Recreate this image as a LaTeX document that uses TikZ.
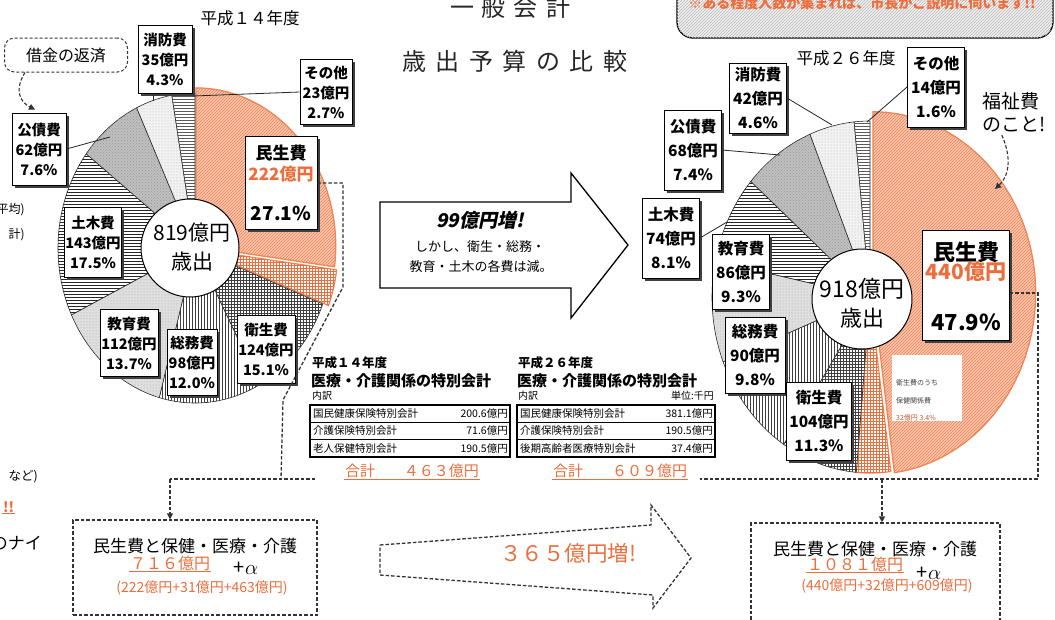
\documentclass[tikz,border=0pt]{standalone}
\usepackage{fontspec}
\newfontfamily\jp{Noto Sans CJK JP}
\usetikzlibrary{patterns,shadows,arrows.meta,calc}
\definecolor{orng}{RGB}{236,110,60}
\definecolor{orngl}{RGB}{248,198,172}
\definecolor{orngd}{RGB}{238,135,85}
\newcommand\pieslice[3]{\path[#3] (0,0) -- plot[domain=#1:#2,samples=40] ({cos(\x)},{sin(\x)}) -- cycle;}
\newcommand\fs[2]{\fontsize{#1}{#2}\selectfont}
\begin{document}
\begin{tikzpicture}[x=1pt,y=-1pt,
  sl/.style={draw=black!85, line width=0.6pt},
  pminsei/.style={draw=orngd, line width=1.3pt, fill=orngl, postaction={pattern=north east lines, pattern color=orng!85}},
  pminsei2/.style={draw=orngd, line width=1.2pt, fill=white, postaction={pattern=grid, pattern color=orng}},
  peisei/.style={sl, fill=white, postaction={pattern=grid, pattern color=black!75}},
  psomu/.style={sl, fill=white, postaction={pattern=vertical lines, pattern color=black!75}},
  pkyoiku/.style={sl, fill=gray!25, postaction={pattern=dots, pattern color=black!35}},
  pdoboku/.style={sl, fill=white, postaction={pattern=horizontal lines, pattern color=black!85}},
  pkosai/.style={sl, fill=gray!50, postaction={pattern=crosshatch dots, pattern color=black!40}},
  pshobo/.style={sl, fill=gray!10, postaction={pattern=dots, pattern color=black!30}},
  psonota/.style={sl, fill=white, postaction={pattern=horizontal lines, pattern color=black!65}},
  lbl/.style={draw=black, line width=0.9pt, fill=white, align=center, inner sep=1pt,
    drop shadow={shadow xshift=2.5pt,shadow yshift=-2.5pt,fill=black!75,opacity=1}},
  lblL/.style={lbl, font=\jp\bfseries\fs{14.5}{20}},
  lblR/.style={lbl, font=\jp\bfseries\fs{15.5}{24}},
  lead/.style={draw=black!85, line width=0.8pt},
  dsh/.style={draw=black!80, line width=1.3pt, dash pattern=on 3.5pt off 2pt},
  tip/.style={-{Triangle[length=6pt,width=6pt]}},
  tbl/.style={font=\jp\fs{10.5}{10.5}, inner sep=0pt},
  otxt/.style={text=orng}
]
\useasboundingbox (0,0) rectangle (1055,619);
\fill[white] (0,0) rectangle (1055,619);

% ---------- banner top right ----------
\draw[line width=1.3pt, rounded corners=16pt, fill=gray!12, postaction={pattern=north east lines, pattern color=gray!55}] (677,-40) rectangle (1053,38);
\node[otxt, font=\jp\bfseries\fs{14}{14}] (banner) at (862,3) {※ある程度人数が集まれば、市長がご説明に伺います!!};

% ---------- title ----------
\node[font=\jp\fs{24}{24}, text=black!85] (ttl1) at (510,7) {一\kern8pt 般\kern8pt 会\kern8pt 計};
\node[font=\jp\fs{24}{24}, text=black!85] (ttl2) at (515,61) {歳\kern9.5pt 出\kern9.5pt 予\kern9.5pt 算\kern9.5pt の\kern9.5pt 比\kern9.5pt 較};

% ---------- left edge fragments ----------
\node[anchor=east, inner sep=0pt, font=\jp\fs{12}{12}] (f1) at (25,210) {平均)};
\node[anchor=east, inner sep=0pt, font=\jp\fs{12}{12}] (f2) at (25,235) {計)};
\node[anchor=east, inner sep=0pt, font=\jp\fs{12.5}{12.5}] (f3) at (38,477) {など)};
\node[anchor=east, inner sep=0.5pt, font=\jp\bfseries\fs{14}{14}, otxt] (f4) at (15,507) {!!};
\draw[orng, line width=0.8pt] (f4.south west) -- (f4.south east);
\node[anchor=east, inner sep=0pt, font=\jp\fs{17}{17}] (f5) at (42,543) {のナイ};

% ---------- left pie ----------
\node[font=\jp\fs{16.5}{16.5}] (y14) at (250,18) {平成１４年度};
\begin{scope}[shift={(195,248)},x=137pt,y=155pt]
  \begin{scope}[xshift=1pt,yshift=2pt,scale=1.02]\pieslice{90}{-7.56}{pminsei}\end{scope}
  \begin{scope}[xshift=5.8pt,yshift=-1.5pt]\pieslice{-7.56}{-21.19}{pminsei2}\end{scope}
  \pieslice{-21.19}{-61.92}{peisei}
  \pieslice{-61.92}{-105.12}{psomu}
  \pieslice{-105.12}{-154.44}{pkyoiku}
  \pieslice{-154.44}{-217.44}{pdoboku}
  \pieslice{-217.44}{-244.8}{pkosai}
  \pieslice{-244.8}{-260.28}{pshobo}
  \pieslice{-260.28}{-270}{psonota}
\end{scope}
\coordinate (lp1) at (153,101);
\coordinate (lp2) at (193,96);
\coordinate (lp3) at (110,137);
\node[circle, draw, line width=1pt, fill=white, minimum size=98pt, inner sep=0pt] (c1) at (190,248) {};
\node[font=\jp\fs{21}{21}, inner sep=0pt] (c1a) at (192,233) {819億円};
\node[font=\jp\fs{21}{21}, inner sep=0pt] (c1b) at (192,262) {歳出};

\node[lblL, minimum width=54pt, minimum height=68pt] (shobo1) at (165,59) {消防費\\35億円\\4.3\%};
\node[lblL, minimum width=52pt, minimum height=65pt] (sonota1) at (326,92) {その他\\23億円\\2.7\%};
\node[lblL, minimum width=54pt, minimum height=72pt] (kosai1) at (39,149) {公債費\\62億円\\7.6\%};
\node[lblL, minimum width=57pt, minimum height=70pt] (doboku1) at (93,242) {土木費\\143億円\\17.5\%};
\node[lblL, minimum width=58pt, minimum height=67pt] (kyoiku1) at (129,343) {教育費\\112億円\\13.7\%};
\node[lblL, minimum width=50pt, minimum height=66pt] (somu1) at (192,362) {総務費\\98億円\\12.0\%};
\node[lblL, minimum width=58pt, minimum height=68pt] (eisei1) at (266,349) {衛生費\\124億円\\15.1\%};
\node[lbl, minimum width=72pt, minimum height=93pt] (minsei1) at (281,183) {};
\node[font=\jp\bfseries\fs{17}{17}, inner sep=0pt] (m1a) at (281,153) {民生費};
\node[font=\jp\bfseries\fs{17}{17}, inner sep=0pt, otxt] (m1b) at (281,174) {222億円};
\node[font=\jp\bfseries\fs{19}{19}, inner sep=0pt] (m1c) at (281,213) {27.1\%};

\draw[lead] (lp1 |- shobo1.south) -- (lp1);
\draw[lead] (sonota1.west) -- (lp2);
\draw[lead] (kosai1.east) -- (lp3);

\node[draw=black!80, line width=1pt, dash pattern=on 3pt off 2pt, rounded corners=10pt, minimum width=123pt, minimum height=34pt, font=\jp\fs{16}{16}] (shakkin) at (66,55) {借金の返済};
\draw[dsh, line width=1.1pt, tip] ([xshift=-41pt]shakkin.south) .. controls (14,90) and (20,102) .. ([xshift=-4pt,yshift=3pt]kosai1.north);

% ---------- center arrow ----------
\draw[line width=1.3pt, fill=white] (380,202) -- (571,202) -- (571,173) -- (628,245) -- (571,318) -- (571,288) -- (380,288) -- cycle;
\node[font=\jp\bfseries\fs{19}{19}, inner sep=0pt] (a1) at (480,220) {\addfontfeature{FakeSlant=0.2}99億円増!};
\node[font=\jp\fs{13}{13}, inner sep=0pt] (a2) at (480,247) {しかし、衛生・総務・};
\node[font=\jp\fs{13}{13}, inner sep=0pt] (a3) at (481,267) {教育・土木の各費は減。};

% ---------- right pie ----------
\node[font=\jp\fs{16.5}{16.5}] (y26) at (846,58) {平成２６年度};
\begin{scope}[shift={(870,297)},x=158pt,y=176pt]
  \begin{scope}[xshift=3pt,yshift=4pt,scale=1.03]\pieslice{90}{-82.44}{pminsei}\end{scope}
  \pieslice{-82.44}{-94.99}{pminsei2}
  \pieslice{-94.99}{-123.12}{peisei}
  \pieslice{-123.12}{-158.4}{psomu}
  \pieslice{-158.4}{-191.88}{pkyoiku}
  \pieslice{-191.88}{-221.04}{pdoboku}
  \pieslice{-221.04}{-247.68}{pkosai}
  \pieslice{-247.68}{-264.24}{pshobo}
  \pieslice{-264.24}{-270}{psonota}
\end{scope}
\coordinate (rp1) at (832,125);
\coordinate (rp2) at (867,122);
\coordinate (rp3) at (780,155);
\coordinate (rp4) at (727,222);
\node[circle, draw, line width=1pt, fill=white, minimum size=100pt, inner sep=0pt] (c2) at (862,299) {};
\node[font=\jp\fs{23}{23}, inner sep=0pt] (c2a) at (862,289) {918億円};
\node[font=\jp\fs{22}{22}, inner sep=0pt] (c2b) at (862,318) {歳出};

\node[lblR, minimum width=57pt, minimum height=70pt] (shobo2) at (758,98) {消防費\\42億円\\4.6\%};
\node[lblR, minimum width=57pt, minimum height=80pt] (sonota2) at (936,87) {その他\\14億円\\1.6\%};
\node[lblR, minimum width=57pt, minimum height=80pt] (kosai2) at (693,150) {公債費\\68億円\\7.4\%};
\node[lblR, minimum width=57pt, minimum height=80pt] (doboku2) at (671,238) {土木費\\74億円\\8.1\%};
\node[lblR, minimum width=57pt, minimum height=75pt] (kyoiku2) at (741,272) {教育費\\86億円\\9.3\%};
\node[lblR, minimum width=60pt, minimum height=76pt] (somu2) at (755,355) {総務費\\90億円\\9.8\%};
\node[lblR, minimum width=65pt, minimum height=78pt] (eisei2) at (819,421) {衛生費\\104億円\\11.3\%};
\node[lbl, minimum width=87pt, minimum height=110pt] (minsei2) at (966,285) {};
\node[font=\jp\bfseries\fs{22}{22}, inner sep=0pt] (m2a) at (966,252) {民生費};
\node[font=\jp\bfseries\fs{21}{21}, inner sep=0pt, otxt] (m2b) at (966,272) {440億円};
\node[font=\jp\bfseries\fs{22}{22}, inner sep=0pt] (m2c) at (966,322) {47.9\%};

\draw[lead] (shobo2.east) -- (rp1);
\draw[lead] (sonota2.west) -- (rp2);
\draw[lead] (kosai2.east) -- (rp3);
\draw[lead] (doboku2.east) -- (rp4);

\node[fill=white, minimum width=70pt, minimum height=66pt] (hoken) at (927,388) {};
\node[anchor=west, font=\jp\fs{7}{7}, inner sep=0pt, text=black!75] (h1) at (896,383) {衛生費のうち};
\node[anchor=west, font=\jp\fs{7}{7}, inner sep=0pt, text=black!75] (h2) at (896,401) {保健関係費};
\node[anchor=west, font=\jp\fs{7}{7}, inner sep=0pt, text=orng!80!black] (h3) at (896,418) {32億円 3.4\%};

\node[anchor=west, align=left, font=\jp\fs{19}{23}, inner sep=0pt] (fukushi) at (982,112) {福祉費\\のこと!};
\draw[dsh, line width=1.1pt, tip] ([xshift=-12pt,yshift=-3pt]fukushi.south) .. controls (1012,158) and (1009,176) .. (995,189);

% ---------- tables ----------
\node[anchor=west, font=\jp\bfseries\fs{12.5}{12.5}, inner sep=0pt] (t1h1) at (312,363) {平成１４年度};
\node[anchor=west, font=\jp\bfseries\fs{15}{15}, inner sep=0pt] (t1h2) at (311,381) {医療・介護関係の特別会計};
\node[anchor=west, font=\jp\fs{10}{10}, inner sep=0pt] (t1h3) at (312,396) {内訳};
\draw[line width=1.1pt] (310,405) rectangle (510,457);
\draw[line width=0.7pt] (310,422.3) -- (510,422.3) (310,439.7) -- (510,439.7);
\node[tbl, anchor=west] (t1r1) at (313,413.7) {国民健康保険特別会計};
\node[tbl, anchor=east] (t1v1) at (508,413.7) {200.6億円};
\node[tbl, anchor=west] (t1r2) at (313,431) {介護保険特別会計};
\node[tbl, anchor=east] (t1v2) at (508,431) {71.6億円};
\node[tbl, anchor=west] (t1r3) at (313,448.4) {老人保健特別会計};
\node[tbl, anchor=east] (t1v3) at (508,448.4) {190.5億円};
\node[font=\jp\fs{15}{15}, otxt, inner sep=1pt] (g1) at (412,471) {合計\hspace{29pt}４６３億円};
\draw[orng, line width=0.8pt] (g1.south west) -- (g1.south east);

\node[anchor=west, font=\jp\bfseries\fs{12.5}{12.5}, inner sep=0pt] (t2h1) at (518,363) {平成２６年度};
\node[anchor=west, font=\jp\bfseries\fs{15}{15}, inner sep=0pt] (t2h2) at (517,381) {医療・介護関係の特別会計};
\node[anchor=west, font=\jp\fs{10}{10}, inner sep=0pt] (t2h3) at (518,396) {内訳};
\node[anchor=east, font=\jp\fs{10}{10}, inner sep=0pt] (t2h4) at (714,396) {単位:千円};
\draw[line width=1.1pt] (517,405) rectangle (715,457);
\draw[line width=0.7pt] (517,422.3) -- (715,422.3) (517,439.7) -- (715,439.7);
\node[tbl, anchor=west] (t2r1) at (520,413.7) {国民健康保険特別会計};
\node[tbl, anchor=east] (t2v1) at (713,413.7) {381.1億円};
\node[tbl, anchor=west] (t2r2) at (520,431) {介護保険特別会計};
\node[tbl, anchor=east] (t2v2) at (713,431) {190.5億円};
\node[tbl, anchor=west] (t2r3) at (520,448.4) {後期高齢者医療特別会計};
\node[tbl, anchor=east] (t2v3) at (713,448.4) {37.4億円};
\node[font=\jp\fs{15}{15}, otxt, inner sep=1pt] (g2) at (620,471) {合計\hspace{29pt}６０９億円};
\draw[orng, line width=0.8pt] (g2.south west) -- (g2.south east);

% ---------- bottom boxes ----------
\node[dsh, minimum width=244pt, minimum height=95pt] (lbox) at (195,567.5) {};
\node[dsh, minimum width=249pt, minimum height=102pt] (rbox) at (875.5,574) {};

\node[font=\jp\fs{17}{17}, inner sep=0pt] (lb1) at (195,546) {民生費と保健・医療・介護};
\node[font=\jp\fs{16}{16}, otxt, inner sep=1pt] (lb2) at (170,563) {７１６億円};
\draw[orng, line width=0.8pt] (lb2.south west) -- (lb2.south east);
\node[inner sep=0pt] (lb3) at (246,568) {{\jp\fs{20}{20}+}{\fs{20}{20}$\alpha$}};
\node[font=\jp\fs{14}{14}, otxt, inner sep=0pt] (lb4) at (202,588) {(222億円+31億円+463億円)};

\node[font=\jp\fs{17}{17}, inner sep=0pt] (rb1) at (875,549) {民生費と保健・医療・介護};
\node[font=\jp\fs{16}{16}, otxt, inner sep=1pt] (rb2) at (855,564) {１０８１億円};
\draw[orng, line width=0.8pt] (rb2.south west) -- (rb2.south east);
\node[inner sep=0pt] (rb3) at (929,573) {{\jp\fs{20}{20}+}{\fs{20}{20}$\alpha$}};
\node[font=\jp\fs{14}{14}, otxt, inner sep=0pt] (rb4) at (887,586) {(440億円+32億円+609億円)};

% ---------- dashed connectors ----------
\coordinate (l1) at (343,183);
\coordinate (l2) at (343,287);
\coordinate (l3) at (283,400);
\coordinate (l4) at (281,479);
\coordinate (l5) at (170,479);
\coordinate (l6) at (315,479);
\draw[dsh] (minsei1.east) -- (l1) -- (l2) -- (l3) -- (l4);
\draw[dsh] (l6) -- (l5);
\draw[dsh, tip] (l5) -- (l5 |- lbox.north);

\coordinate (r1) at (1038,293);
\coordinate (r2) at (1038,479);
\coordinate (r3) at (700,479);
\coordinate (r4) at (882,479);
\draw[dsh] ([yshift=-8pt]minsei2.east) -- (r1) -- (r2) -- (r3);
\draw[dsh, tip] (r4) -- (r4 |- rbox.north);

% ---------- bottom dashed arrow ----------
\draw[dsh] (380,545) -- (651,525) -- (651,505) -- (691,558) -- (653,608) -- (653,595) -- (380,575) -- cycle;
\node[font=\jp\fs{21.5}{21.5}, otxt, inner sep=0pt] (inc) at (568,553) {３６５億円増!};
\end{tikzpicture}
\end{document}
